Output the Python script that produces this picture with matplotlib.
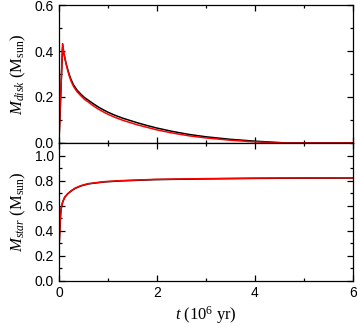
import matplotlib
matplotlib.use('Agg')
import matplotlib.pyplot as plt
from matplotlib.ticker import MultipleLocator

plt.rcParams['font.family'] = ['Liberation Sans', 'DejaVu Sans']
plt.rcParams['mathtext.fontset'] = 'custom'
plt.rcParams['mathtext.rm'] = 'Liberation Serif'
plt.rcParams['mathtext.it'] = 'Liberation Serif:italic'
plt.rcParams['mathtext.bf'] = 'Liberation Serif:bold'

# disk mass (M_sun) vs time (Myr)
t_disk = [0, 0.075, 0.09, 0.11, 0.13, 0.15, 0.18, 0.21, 0.25, 0.3, 0.37,
          0.45, 0.52, 0.6, 0.7, 0.8, 0.9, 1.0, 1.15, 1.3, 1.45, 1.6, 1.8,
          2.0, 2.3, 2.66, 3.0, 3.5, 4.0, 4.4, 4.65, 5.0, 6.0]
disk_black = [0, 0.415, 0.398, 0.38, 0.36, 0.343, 0.32, 0.298, 0.275, 0.252,
              0.23, 0.212, 0.198, 0.186, 0.171, 0.157, 0.145, 0.134, 0.12,
              0.108, 0.098, 0.088, 0.076, 0.065, 0.051, 0.037, 0.027, 0.016,
              0.008, 0.003, 0.0, 0.0, 0.0]
disk_red = [0, 0.432, 0.408, 0.385, 0.362, 0.34, 0.315, 0.292, 0.268, 0.245,
            0.223, 0.205, 0.19, 0.178, 0.162, 0.148, 0.136, 0.125, 0.111,
            0.099, 0.089, 0.079, 0.068, 0.057, 0.044, 0.031, 0.022, 0.012,
            0.005, 0.0015, 0.0, 0.0, 0.0]

# stellar mass (M_sun) vs time (Myr)
t_star = [0, 0.01, 0.02, 0.03, 0.04, 0.055, 0.08, 0.12, 0.19, 0.26, 0.33,
          0.45, 0.6, 0.93, 1.27, 1.95, 3.0, 4.0, 5.0, 6.0]
star_black = [0.232, 0.33, 0.418, 0.5, 0.556, 0.596, 0.632, 0.668, 0.698,
              0.72, 0.738, 0.758, 0.774, 0.79, 0.798, 0.808, 0.814, 0.818,
              0.82, 0.821]
star_red = [0.234, 0.332, 0.42, 0.502, 0.558, 0.598, 0.634, 0.67, 0.70,
            0.722, 0.74, 0.76, 0.776, 0.792, 0.80, 0.81, 0.816, 0.82, 0.822,
            0.823]

fig = plt.figure(figsize=(3.57, 3.27), dpi=100)
ax1 = fig.add_axes([0.165, 0.5627, 0.8235, 0.422])
ax2 = fig.add_axes([0.165, 0.1407, 0.8235, 0.422])

ax1.plot(t_disk, disk_black, color='black', lw=1.1)
ax1.plot(t_disk, disk_red, color='red', lw=1.1)
ax2.plot(t_star, star_black, color='black', lw=1.1)
ax2.plot(t_star, star_red, color='red', lw=1.1)

ax1.set_xlim(0, 6)
ax1.set_ylim(0, 0.6)
ax2.set_xlim(0, 6)
ax2.set_ylim(0, 1.1)

for ax in (ax1, ax2):
    ax.xaxis.set_major_locator(MultipleLocator(2))
    ax.xaxis.set_minor_locator(MultipleLocator(1))
    ax.yaxis.set_major_locator(MultipleLocator(0.2))
    ax.yaxis.set_minor_locator(MultipleLocator(0.1))
    ax.tick_params(which='both', direction='in', top=True, right=True,
                   labelsize=10, width=0.9)
    ax.tick_params(which='major', length=4.5)
    ax.tick_params(which='minor', length=2.5)
    for s in ax.spines.values():
        s.set_linewidth(0.9)
    ax.yaxis.set_major_formatter(plt.FormatStrFormatter('%.1f'))

ax1.tick_params(labelbottom=False)
ax2.set_xticks([0, 2, 4, 6])
ax2.set_xticklabels(['0', '2', '4', '6'])

ax1.set_ylabel(r'$M_{disk}\ (\mathrm{M}_{\mathrm{sun}})$', fontsize=12, labelpad=5)
ax2.set_ylabel(r'$M_{star}\ (\mathrm{M}_{\mathrm{sun}})$', fontsize=12, labelpad=5)
ax2.set_xlabel(r'$t\ (10^{6}\ \mathrm{yr})$', fontsize=12, labelpad=3)
fig.align_ylabels([ax1, ax2])

fig.savefig('out.png', dpi=100)
